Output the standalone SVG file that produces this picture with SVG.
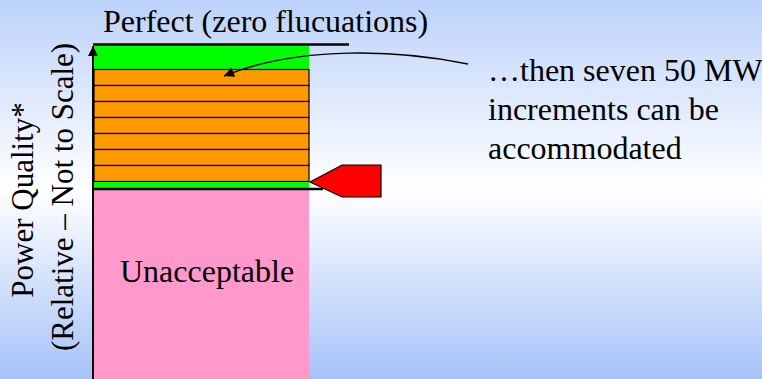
<svg xmlns="http://www.w3.org/2000/svg" width="762" height="379" viewBox="0 0 762 379">
<defs>
<linearGradient id="bg" x1="0" y1="0" x2="0" y2="1">
<stop offset="0" stop-color="#bcd2fa"/>
<stop offset="0.5" stop-color="#ffffff"/>
<stop offset="1" stop-color="#a6c2f8"/>
</linearGradient>
<marker id="ah" viewBox="0 0 10 10" refX="10" refY="5" markerWidth="12" markerHeight="10" markerUnits="userSpaceOnUse" orient="auto">
<path d="M0,0 L10,5 L0,10 z" fill="#000"/>
</marker>
</defs>
<style>
text{font-family:"Liberation Serif","Times New Roman",serif;font-size:32px;fill:#000}
.band{fill:#ff9900;stroke:#000;stroke-width:1.2}
.green{fill:#00ff00}
.line{stroke:#000;fill:none}
</style>
<rect x="0" y="0" width="762" height="379" fill="url(#bg)"/>
<g id="perfect-zone">
<rect class="green" x="94" y="45" width="215" height="25"/>
<text x="103" y="32">Perfect (zero flucuations)</text>
</g>
<g id="increments">
<rect class="band" x="94" y="69.5" width="215" height="16"/>
<rect class="band" x="94" y="85.5" width="215" height="16"/>
<rect class="band" x="94" y="101.5" width="215" height="16"/>
<rect class="band" x="94" y="117.5" width="215" height="16"/>
<rect class="band" x="94" y="133.5" width="215" height="16"/>
<rect class="band" x="94" y="149.5" width="215" height="16"/>
<rect class="band" x="94" y="165.5" width="215" height="16"/>
</g>
<g id="margin">
<rect class="green" x="94" y="182" width="215" height="6"/>
</g>
<g id="unacceptable">
<rect x="94" y="190" width="215" height="189" fill="#ff99cc"/>
<text x="120" y="282">Unacceptable</text>
</g>
<g id="current-level">
<polygon points="310,182 342,165 381,165 381,197 342,197" fill="#ff0000" stroke="#000" stroke-width="1.2"/>
</g>
<g id="axis-label">
<text transform="translate(33,200) rotate(-90)" text-anchor="middle" style="font-size:31px">Power Quality*</text>
<text transform="translate(73,197) rotate(-90)" text-anchor="middle" style="font-size:31px">(Relative – Not to Scale)</text>
</g>
<g id="note">
<text x="488" y="81">…then seven 50 MW</text>
<text x="488" y="120">increments can be</text>
<text x="488" y="159">accommodated</text>
</g>
<g id="connectors">
<line class="line" x1="93" y1="44.5" x2="349" y2="44.5" stroke-width="2.5"/>
<line class="line" x1="93" y1="189" x2="323" y2="189" stroke-width="2.5"/>
<line class="line" x1="93" y1="379" x2="93" y2="46" stroke-width="2" marker-end="url(#ah)"/>
<path class="line" d="M468,64 C400,50 300,45 224,76" stroke-width="1.5" marker-end="url(#ah)"/>
</g>
</svg>
